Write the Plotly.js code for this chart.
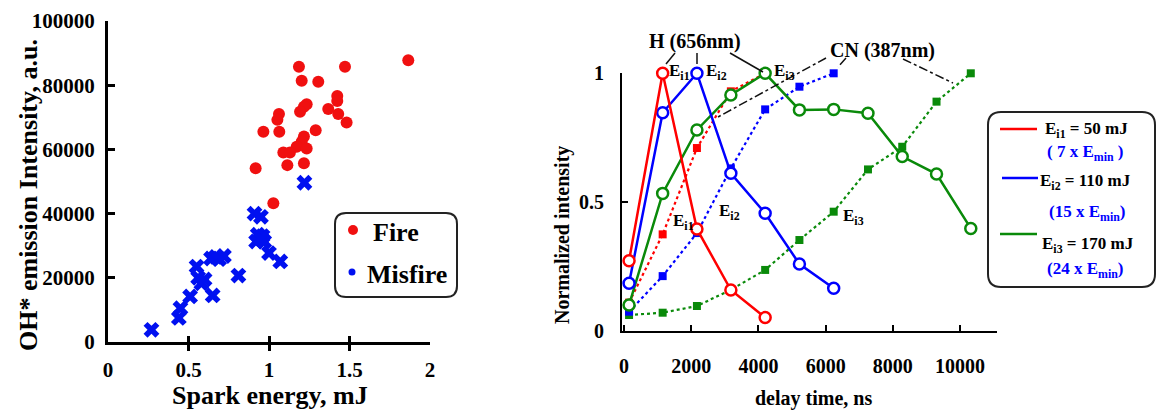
<!DOCTYPE html>
<html>
<head>
<meta charset="utf-8">
<script src="https://cdn.plot.ly/plotly-3.0.1.min.js"></script>
<style>html,body{margin:0;padding:0;background:#fff}#chart{width:1157px;height:410px}</style>
</head>
<body>
<div id="chart"></div>
<script>
// ---------- Left panel data: OH* emission vs spark energy ----------
const fireEnergy = [1.865,1.186,1.472,1.203,1.306,1.424,1.424,1.368,1.43,1.482,1.234,1.217,1.193,1.062,1.052,0.965,1.064,1.29,1.217,1.203,1.172,1.234,1.089,1.13,1.114,1.217,0.917,1.027];
const fireOH     = [87800,85760,85760,81400,81090,76600,75100,72600,71000,68400,74100,73300,71700,71000,69200,65500,65500,66000,64000,62400,60800,60300,59000,59000,55100,55700,54100,43200];
const misEnergy  = [0.27,0.44,0.45,0.51,0.65,0.55,0.56,0.58,0.60,0.64,0.67,0.69,0.72,0.81,0.91,0.95,0.93,0.96,0.92,0.97,0.95,1.00,1.07,1.22];
const misOH      = [3800,7500,10500,14200,14500,23500,20000,18300,19500,26000,26500,25800,26800,20700,40000,39000,33400,33000,31300,31300,32200,27700,25100,49600];

// ---------- Right panel data: normalized intensity vs delay time ----------
const delayNs = [150,1150,2170,3180,4200,5220,6240,7260,8280,9300,10320];
const H_Ei1  = [0.273,1.0,0.396,0.159,0.052];
const H_Ei2  = [0.185,0.847,1.0,0.612,0.457,0.26,0.166];
const H_Ei3  = [0.101,0.534,0.78,0.916,1.0,0.858,0.86,0.845,0.677,0.609,0.398];
const CN_Ei1 = [0.11,0.375,0.71,0.93,1.0];
const CN_Ei2 = [0.075,0.213,0.38,0.631,0.86,0.948,1.0];
const CN_Ei3 = [0.062,0.071,0.097,0.16,0.237,0.353,0.463,0.627,0.715,0.89,1.0];

const leftXTicks = [0,0.5,1,1.5,2];
const leftYTicks = [0,20000,40000,60000,80000,100000];
const rightXTicks = [0,2000,4000,6000,8000,10000];
const rightYTicks = [0,0.5,1];

const RED='#ff0000', BLUE='#0000ff', GREEN='#0a8a0a';
const FONT='Liberation Serif, Times New Roman, serif';
const W=1157, H=410;
const px = x => x/W, py = y => 1 - y/H;

function solid(ys, color){
  return {x: delayNs.slice(0, ys.length), y: ys, xaxis:'x2', yaxis:'y2', type:'scatter', mode:'lines+markers',
    cliponaxis:false, showlegend:false,
    line:{color:color, width:2.5},
    marker:{symbol:'circle', size:11, color:'#ffffff', line:{color:color, width:2.5}}};
}
function dotted(ys, color){
  return {x: delayNs.slice(0, ys.length), y: ys, xaxis:'x2', yaxis:'y2', type:'scatter', mode:'lines+markers',
    cliponaxis:false, showlegend:false,
    line:{color:color, width:2.2, dash:'dot'},
    marker:{symbol:'square', size:8, color:color}};
}

const traces = [
  {x: fireEnergy, y: fireOH, type:'scatter', mode:'markers', name:'Fire', showlegend:false,
   marker:{symbol:'circle', size:12, color:'#f01010'}},
  {x: misEnergy, y: misOH, type:'scatter', mode:'markers', name:'Misfire', showlegend:false,
   marker:{symbol:'x', size:14, color:'#0010f0'}},
  dotted(CN_Ei3, GREEN), dotted(CN_Ei2, BLUE), dotted(CN_Ei1, RED),
  solid(H_Ei3, GREEN), solid(H_Ei2, BLUE), solid(H_Ei1, RED)
];

function ann(x, y, text, size, opts){
  return Object.assign({xref:'paper', yref:'paper', x:px(x), y:py(y), text:text, showarrow:false,
    font:{family:FONT, size:size, color:'#000', weight:'bold'}, xanchor:'center', yanchor:'middle'}, opts||{});
}
function seg(x0,y0,x1,y1,color,width,dash){
  return {type:'line', xref:'paper', yref:'paper', x0:px(x0), y0:py(y0), x1:px(x1), y1:py(y1),
    line:{color:color, width:width, dash:dash||'solid'}};
}
function rrect(x0,y0,x1,y1,r){
  const P=(x,y)=>px(x)+','+py(y);
  const d='M'+P(x0+r,y0)+' L'+P(x1-r,y0)+' Q'+P(x1,y0)+' '+P(x1,y0+r)+
    ' L'+P(x1,y1-r)+' Q'+P(x1,y1)+' '+P(x1-r,y1)+
    ' L'+P(x0+r,y1)+' Q'+P(x0,y1)+' '+P(x0,y1-r)+
    ' L'+P(x0,y0+r)+' Q'+P(x0,y0)+' '+P(x0+r,y0)+' Z';
  return {type:'path', xref:'paper', yref:'paper', path:d, line:{color:'#222', width:2}};
}
function dot(cx, cy, r, color){
  return {type:'circle', xref:'paper', yref:'paper', x0:px(cx-r), x1:px(cx+r), y0:py(cy+r), y1:py(cy-r),
    fillcolor:color, line:{width:0}};
}

const shapes = [
  rrect(335,213,457,297,11),
  dot(353,230,5,'#f01010'), dot(352,272,3.5,'#0010f0'),
  rrect(988,112,1155,287,13),
  seg(1000,129,1037,129,RED,2.5), seg(1002,178,1038,178,BLUE,2.5), seg(1000,234,1037,234,GREEN,2.5),
  seg(675,53,666,64,'#111',1.5), seg(697,53,697,64,'#111',1.5), seg(730,53,763,72,'#111',1.5),
  seg(826,58,718,117,'#111',1.5,'dashdot'), seg(846,58,838,67,'#111',1.5,'dashdot'), seg(903,59,953,83,'#111',1.5,'dashdot')
];

const annotations = [
  ann(28,195,'OH* emission Intensity, a.u.',26,{textangle:-90}),
  ann(270,395,'Spark energy, mJ',26),
  ann(371,233,'Fire',26,{xanchor:'left'}),
  ann(365,274,'Misfire',26,{xanchor:'left'}),
  ann(563,235,'Normalized intensity',20,{textangle:-90}),
  ann(813,398,'delay time, ns',20),
  ann(695,42,'H (656nm)',20),
  ann(882,50,'CN (387nm)',20),
  ann(667,72,'E<sub>i1</sub>',17,{xanchor:'left'}),
  ann(704,72,'E<sub>i2</sub>',17,{xanchor:'left'}),
  ann(772,72,'E<sub>i3</sub>',17,{xanchor:'left'}),
  ann(671,222,'E<sub>i1</sub>',17,{xanchor:'left'}),
  ann(717,212,'E<sub>i2</sub>',17,{xanchor:'left'}),
  ann(841,217,'E<sub>i3</sub>',17,{xanchor:'left'}),
  ann(1043,130,'E<sub>i1</sub> = 50 mJ',17,{xanchor:'left'}),
  ann(1085,153,'( 7 x E<sub>min</sub> )',17,{font:{family:FONT,size:17,color:BLUE,weight:'bold'}}),
  ann(1038,182,'E<sub>i2</sub> = 110 mJ',17,{xanchor:'left'}),
  ann(1087,213,'(15 x E<sub>min</sub>)',17,{font:{family:FONT,size:17,color:BLUE,weight:'bold'}}),
  ann(1040,245,'E<sub>i3</sub> = 170 mJ',17,{xanchor:'left'}),
  ann(1085,270,'(24 x E<sub>min</sub>)',17,{font:{family:FONT,size:17,color:BLUE,weight:'bold'}})
];

const axBase = {showgrid:false, zeroline:false, showline:true, linecolor:'#000', ticks:'inside', tickcolor:'#000', fixedrange:true};

const layout = {
  width:W, height:H, margin:{l:0,r:0,t:0,b:0}, paper_bgcolor:'#fff', plot_bgcolor:'rgba(0,0,0,0)',
  showlegend:false,
  xaxis: Object.assign({}, axBase, {domain:[px(108),px(430)], range:[0,2], anchor:'y', tickvals:leftXTicks,
    linewidth:3, ticklen:6, tickwidth:3, ticklabelstandoff:7,
    tickfont:{family:FONT, size:21, color:'#000', weight:'bold'},
    minor:{ticks:'outside', tickvals:leftXTicks.map(v=>v+0.0001), ticklen:6, tickwidth:3, tickcolor:'#000', showgrid:false}}),
  yaxis: Object.assign({}, axBase, {domain:[1-342/H, 1-21/H], range:[0,100000], anchor:'x', tickvals:leftYTicks, tickformat:'d',
    linewidth:3, ticklen:7, tickwidth:3, ticklabelstandoff:6,
    tickfont:{family:FONT, size:21, color:'#000', weight:'bold'}}),
  xaxis2: Object.assign({}, axBase, {domain:[px(622),px(997)], range:[-60,11100], anchor:'y2', tickvals:rightXTicks, tickformat:'d',
    linewidth:2, ticklen:6, tickwidth:2, ticklabelstandoff:16,
    tickfont:{family:FONT, size:20, color:'#000', weight:'bold'}}),
  yaxis2: Object.assign({}, axBase, {domain:[1-331/H, 1-73.3/H], range:[0,1], anchor:'x2', tickvals:rightYTicks, ticktext:['0','0.5','1'],
    linewidth:2, ticklen:6, tickwidth:2, ticklabelstandoff:12,
    tickfont:{family:FONT, size:20, color:'#000', weight:'bold'}}),
  shapes: shapes,
  annotations: annotations
};

Plotly.newPlot('chart', traces, layout, {staticPlot:true, displayModeBar:false});
</script>
</body>
</html>
